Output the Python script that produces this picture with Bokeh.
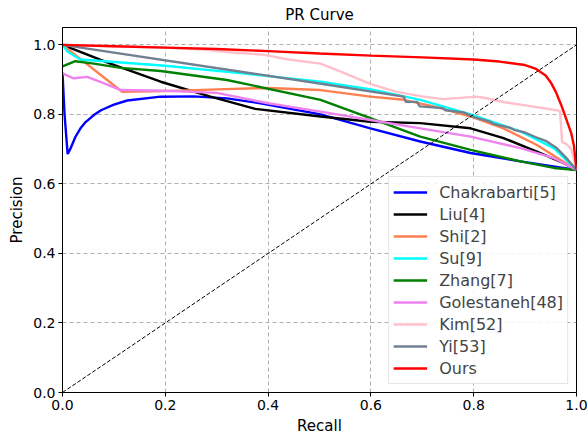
from bokeh.plotting import figure
from bokeh.embed import file_html
from bokeh.resources import INLINE
from bokeh.models import Legend, LegendItem, FixedTicker, Range1d, PrintfTickFormatter

# ---- data ----
chak_x = [0, 0.004, 0.01, 0.015, 0.025, 0.035, 0.045, 0.061, 0.075, 0.1, 0.126, 0.191, 0.255, 0.32, 0.385, 0.502, 0.599, 0.696, 0.794, 0.891, 1.0]
chak_y = [0.92, 0.80, 0.686, 0.70, 0.735, 0.76, 0.778, 0.798, 0.812, 0.828, 0.84, 0.851, 0.852, 0.846, 0.832, 0.80, 0.76, 0.722, 0.689, 0.665, 0.64]

liu_x = [0, 0.093, 0.191, 0.288, 0.375, 0.502, 0.599, 0.696, 0.794, 0.858, 0.923, 0.975, 1.0]
liu_y = [1.0, 0.946, 0.894, 0.851, 0.816, 0.794, 0.779, 0.775, 0.76, 0.732, 0.693, 0.66, 0.64]

shi_x = [0, 0.116, 0.2, 0.3, 0.4, 0.502, 0.599, 0.664, 0.73, 0.794, 0.858, 0.923, 1.0]
shi_y = [1.0, 0.865, 0.867, 0.872, 0.876, 0.87, 0.851, 0.842, 0.82, 0.794, 0.76, 0.712, 0.64]

su_x = [0, 0.01, 0.035, 0.2, 0.35, 0.502, 0.6, 0.696, 0.794, 0.891, 0.956, 1.0]
su_y = [1.0, 0.98, 0.958, 0.94, 0.918, 0.894, 0.872, 0.842, 0.80, 0.751, 0.703, 0.64]

zhang_x = [0, 0.025, 0.061, 0.113, 0.191, 0.32, 0.502, 0.599, 0.696, 0.794, 0.891, 0.956, 1.0]
zhang_y = [0.938, 0.953, 0.946, 0.934, 0.925, 0.899, 0.842, 0.789, 0.736, 0.698, 0.665, 0.646, 0.64]

gole_x = [0, 0.021, 0.048, 0.08, 0.113, 0.2, 0.3, 0.4, 0.502, 0.599, 0.696, 0.794, 0.891, 0.956, 1.0]
gole_y = [0.918, 0.904, 0.908, 0.89, 0.87, 0.868, 0.862, 0.832, 0.808, 0.784, 0.76, 0.736, 0.703, 0.674, 0.64]

kim_x = [0, 0.1, 0.2, 0.28, 0.33, 0.39, 0.44, 0.502, 0.541, 0.6, 0.65, 0.7, 0.74, 0.806, 0.82, 0.86, 0.9, 0.94, 0.968, 0.972, 0.98, 0.99, 1.0]
kim_y = [1.0, 0.996, 0.992, 0.986, 0.978, 0.972, 0.958, 0.946, 0.923, 0.887, 0.865, 0.852, 0.844, 0.851, 0.848, 0.835, 0.826, 0.817, 0.81, 0.72, 0.715, 0.7, 0.64]

yi_x = [0, 0.5, 0.664, 0.668, 0.69, 0.695, 0.74, 0.745, 0.78, 0.80, 0.83, 0.84, 0.87, 0.88, 0.90, 0.92, 0.94, 0.96, 0.98, 1.0]
yi_y = [1.0, 0.889, 0.851, 0.836, 0.836, 0.823, 0.818, 0.812, 0.806, 0.792, 0.78, 0.772, 0.762, 0.755, 0.748, 0.735, 0.724, 0.705, 0.675, 0.64]

ours_x = [0, 0.1, 0.2, 0.3, 0.4, 0.5, 0.6, 0.7, 0.8, 0.85, 0.9, 0.92, 0.94, 0.95, 0.96, 0.97, 0.98, 0.99, 0.995, 1.0]
ours_y = [1.0, 0.996, 0.992, 0.988, 0.982, 0.975, 0.969, 0.964, 0.958, 0.952, 0.942, 0.932, 0.912, 0.892, 0.864, 0.828, 0.787, 0.745, 0.71, 0.64]

diag_x = [0, 1]
diag_y = [0, 1]

series = [
    ("Chakrabarti[5]", chak_x, chak_y, "#0000ff"),
    ("Liu[4]", liu_x, liu_y, "#000000"),
    ("Shi[2]", shi_x, shi_y, "#ff7f50"),
    ("Su[9]", su_x, su_y, "#00ffff"),
    ("Zhang[7]", zhang_x, zhang_y, "#008000"),
    ("Golestaneh[48]", gole_x, gole_y, "#ee82ee"),
    ("Kim[52]", kim_x, kim_y, "#ffc0cb"),
    ("Yi[53]", yi_x, yi_y, "#708090"),
    ("Ours", ours_x, ours_y, "#ff0000"),
]

ticks = [0.0, 0.2, 0.4, 0.6, 0.8, 1.0]
FONT = "DejaVu Sans"

p = figure(width=588, height=437, output_backend="svg", toolbar_location=None,
           x_range=Range1d(0, 1), y_range=Range1d(0, 1.05),
           title="PR Curve", min_border_left=62, min_border_right=12,
           min_border_top=26, min_border_bottom=45)
p.title.align = "center"
p.title.text_font = FONT
p.title.text_font_size = "15px"
p.title.text_font_style = "normal"
p.title.text_color = "#000000"
p.title.offset = 0
p.title.standoff = 7

for ax in (p.xaxis[0], p.yaxis[0]):
    ax.ticker = FixedTicker(ticks=ticks)
    ax.formatter = PrintfTickFormatter(format="%.1f")
    ax.major_label_text_font = FONT
    ax.major_label_text_font_size = "14px"
    ax.major_label_text_color = "#000000"
    ax.axis_label_text_font = FONT
    ax.axis_label_text_font_size = "15px"
    ax.axis_label_text_font_style = "normal"
    ax.axis_label_text_color = "#000000"
    ax.minor_tick_line_color = None
    ax.major_tick_out = 4
    ax.major_tick_in = 0
    ax.axis_line_color = "#000000"
    ax.major_tick_line_color = "#000000"
    ax.axis_label_standoff = 4
    ax.major_label_standoff = 3
p.xaxis[0].axis_label = "Recall"
p.yaxis[0].axis_label = "Precision"

p.outline_line_color = "#000000"
p.outline_line_alpha = 1
p.xgrid.ticker = FixedTicker(ticks=ticks)
p.ygrid.ticker = FixedTicker(ticks=ticks)
for g in (p.xgrid[0], p.ygrid[0]):
    g.grid_line_color = "#b0b0b0"
    g.grid_line_dash = "4 3"
    g.grid_line_width = 1

items = []
for name, xs, ys, c in series:
    r = p.line(xs, ys, line_color=c, line_width=2.4)
    items.append(LegendItem(label=name, renderers=[r]))

p.line(diag_x, diag_y, line_color="#000000", line_width=1, line_dash="4 2")

legend = Legend(items=items, location="bottom_right", margin=8, padding=4,
                spacing=0, label_height=22, glyph_height=22, glyph_width=34,
                label_standoff=12, label_text_font=FONT, label_text_font_size="16px",
                border_line_color="#cccccc", background_fill_alpha=0.85)
p.add_layout(legend, "center")

open("out.html", "w").write(file_html(p, INLINE))
